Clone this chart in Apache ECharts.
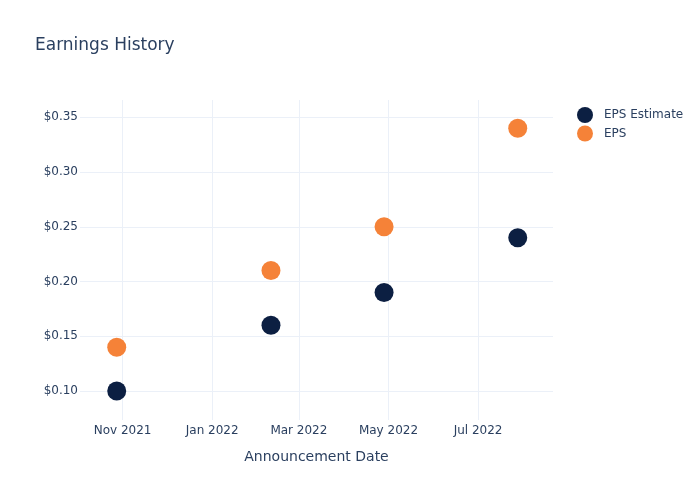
<!DOCTYPE html>
<html>
<head>
<meta charset="utf-8">
<script src="https://cdn.jsdelivr.net/npm/echarts@6/dist/echarts.min.js"></script>
<style>html,body{margin:0;padding:0;background:#fff}#c{width:700px;height:500px}</style>
</head>
<body>
<div id="c"></div>
<script>
const dates = ['2021-10-28', '2022-02-10', '2022-04-28', '2022-07-28'];
const epsEstimate = [0.10, 0.16, 0.19, 0.24];
const eps = [0.14, 0.21, 0.25, 0.34];
const xTickDates = ['2021-11-01', '2022-01-01', '2022-03-01', '2022-05-01', '2022-07-01'];
const yTicks = [0.10, 0.15, 0.20, 0.25, 0.30, 0.35];
const xRange = ['2021-10-03', '2022-08-21'];
const yRange = [0.0735, 0.3658];

const months = ['Jan','Feb','Mar','Apr','May','Jun','Jul','Aug','Sep','Oct','Nov','Dec'];
function ts(s){ const p = s.split('-').map(Number); return Date.UTC(p[0], p[1]-1, p[2]); }
const FONT = 'DejaVu Sans';
const TXT = '#2a3f5f';
const GRIDC = '#ebf0f8';

const chart = echarts.init(document.getElementById('c'));
chart.setOption({
  animation: false,
  textStyle: { fontFamily: FONT },
  title: {
    text: 'Earnings History', left: 30, top: 32,
    textStyle: { fontFamily: FONT, fontSize: 17, fontWeight: 'normal', color: TXT }
  },
  legend: {
    data: ['EPS Estimate', 'EPS'],
    orient: 'vertical', left: 572, top: 102,
    icon: 'circle', itemWidth: 16, itemHeight: 16, itemGap: 2.5,
    textStyle: { fontFamily: FONT, fontSize: 12, color: TXT, padding: [0, 0, 0, 6] }
  },
  grid: { left: 80, right: 147, top: 100, bottom: 80 },
  xAxis: {
    type: 'value',
    min: ts(xRange[0]), max: ts(xRange[1]),
    name: 'Announcement Date', nameLocation: 'middle', nameGap: 30,
    nameTextStyle: { fontFamily: FONT, fontSize: 14, color: TXT },
    axisLine: { show: false },
    axisTick: { show: false, customValues: xTickDates.map(ts) },
    axisLabel: {
      customValues: xTickDates.map(ts), margin: 5,
      fontFamily: FONT, fontSize: 12, color: TXT,
      formatter: v => { const d = new Date(v); return months[d.getUTCMonth()] + ' ' + d.getUTCFullYear(); }
    },
    splitLine: { show: true, lineStyle: { color: GRIDC, width: 1 } }
  },
  yAxis: {
    type: 'value',
    min: yRange[0], max: yRange[1],
    axisLine: { show: false },
    axisTick: { show: false, customValues: yTicks },
    axisLabel: {
      customValues: yTicks, margin: 2,
      fontFamily: FONT, fontSize: 12, color: TXT,
      formatter: v => '$' + v.toFixed(2)
    },
    splitLine: { show: true, lineStyle: { color: GRIDC, width: 1 } }
  },
  series: [
    {
      name: 'EPS Estimate', type: 'scatter', symbolSize: 19,
      itemStyle: { color: '#0c1f42', opacity: 1 },
      data: dates.map((d, i) => [ts(d), epsEstimate[i]])
    },
    {
      name: 'EPS', type: 'scatter', symbolSize: 19,
      itemStyle: { color: '#f58238', opacity: 1 },
      data: dates.map((d, i) => [ts(d), eps[i]])
    }
  ]
});
</script>
</body>
</html>
